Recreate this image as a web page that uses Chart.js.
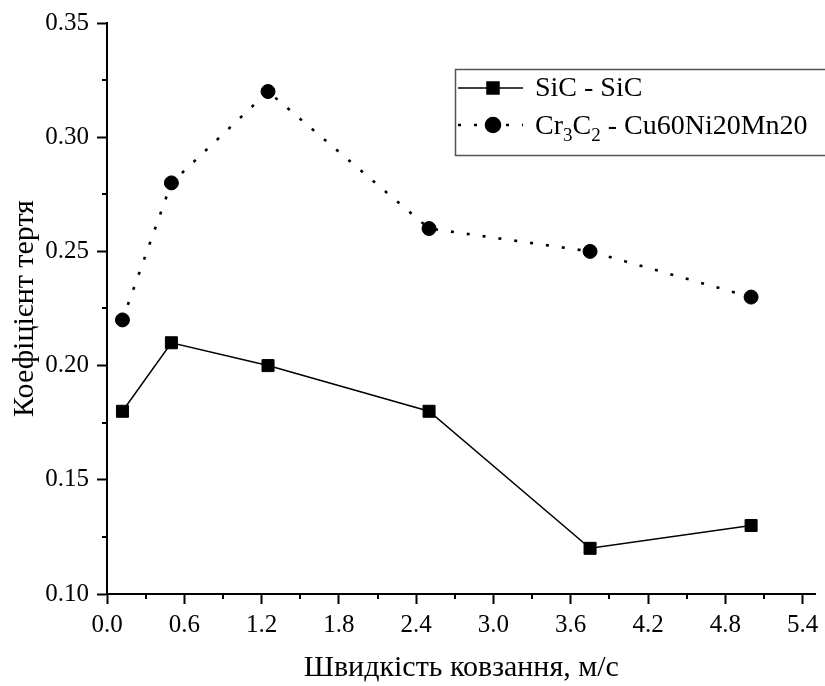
<!DOCTYPE html>
<html>
<head>
<meta charset="utf-8">
<script src="https://cdn.jsdelivr.net/npm/chart.js@4/dist/chart.umd.min.js"></script>
<style>
  html, body { margin: 0; padding: 0; background: #fff; }
  canvas { display: block; }
</style>
</head>
<body>
<canvas id="c" width="825" height="686"></canvas>
<script>
// ---- data ----
const speeds = [0.12, 0.5, 1.25, 2.5, 3.75, 5.0];
const sicValues = [0.18, 0.21, 0.20, 0.18, 0.12, 0.13];
const cr3c2Values = [0.22, 0.28, 0.32, 0.26, 0.25, 0.23];
const seriesNames = ['SiC - SiC', 'Cr₃C₂ - Cu60Ni20Mn20'];
const xTickValues = [0.0, 0.6, 1.2, 1.8, 2.4, 3.0, 3.6, 4.2, 4.8, 5.4];
const xMinorValues = [0.3, 0.9, 1.5, 2.1, 2.7, 3.3, 3.9, 4.5, 5.1];
const yTickValues = [0.10, 0.15, 0.20, 0.25, 0.30, 0.35];
const yMinorValues = [0.125, 0.175, 0.225, 0.275, 0.325];
const xTitle = 'Швидкість ковзання, м/с';
const yTitle = 'Коефіцієнт тертя';
// legend label rich parts: [text, isSubscript]
const legendParts = [
  [['SiC - SiC', false]],
  [['Cr', false], ['3', true], ['C', false], ['2', true], [' - Cu60Ni20Mn20', false]]
];

const FONT = "'Liberation Serif', 'Times New Roman', serif";

const minorTicks = {
  id: 'minorTicks',
  afterDraw(chart) {
    const ctx = chart.ctx;
    const xs = chart.scales.x, ys = chart.scales.y;
    const ca = chart.chartArea;
    ctx.save();
    ctx.strokeStyle = '#000';
    ctx.lineWidth = 2;
    ctx.beginPath();
    xMinorValues.forEach(v => {
      const px = Math.round(xs.getPixelForValue(v));
      ctx.moveTo(px, ca.bottom);
      ctx.lineTo(px, ca.bottom + 5);
    });
    yMinorValues.forEach(v => {
      const py = Math.round(ys.getPixelForValue(v));
      ctx.moveTo(ca.left, py);
      ctx.lineTo(ca.left - 5, py);
    });
    ctx.stroke();
    ctx.restore();
  }
};

const boxLegend = {
  id: 'boxLegend',
  afterDraw(chart) {
    const ctx = chart.ctx;
    const ca = chart.chartArea;
    const bx = ca.left + 348, by = ca.top + 46, bw = 380, bh = 86;
    ctx.save();
    ctx.strokeStyle = '#555';
    ctx.lineWidth = 1.5;
    ctx.strokeRect(bx + 0.5, by + 0.5, bw, bh);
    const rows = [
      { lineY: by + 19, baseY: by + 27, ds: chart.data.datasets[0] },
      { lineY: by + 56, baseY: by + 65, ds: chart.data.datasets[1] }
    ];
    rows.forEach((r, i) => {
      const ds = r.ds;
      ctx.strokeStyle = '#000';
      ctx.lineWidth = ds.borderWidth;
      ctx.setLineDash(ds.borderDash || []);
      ctx.beginPath();
      ctx.moveTo(bx + 3, r.lineY);
      ctx.lineTo(bx + 68, r.lineY);
      ctx.stroke();
      ctx.setLineDash([]);
      Chart.helpers.drawPoint(ctx, {
        pointStyle: ds.pointStyle, radius: ds.pointRadius, borderWidth: 1
      }, bx + 38, r.lineY);
      ctx.fillStyle = '#000';
      ctx.fill();
      // text
      let tx = bx + 80;
      ctx.textBaseline = 'alphabetic';
      ctx.textAlign = 'left';
      legendParts[i].forEach(([t, sub]) => {
        ctx.font = (sub ? '19px ' : '28px ') + FONT;
        ctx.fillText(t, tx, r.baseY + (sub ? 7 : 0));
        tx += ctx.measureText(t).width;
      });
    });
    ctx.restore();
  }
};

new Chart(document.getElementById('c'), {
  type: 'line',
  data: {
    datasets: [
      {
        label: seriesNames[0],
        data: speeds.map((x, i) => ({ x, y: sicValues[i] })),
        borderColor: '#000',
        backgroundColor: '#000',
        borderWidth: 1.5,
        pointStyle: 'rect',
        pointRadius: 8.5,
        pointBorderWidth: 1,
        pointBackgroundColor: '#000',
        pointBorderColor: '#000',
        tension: 0
      },
      {
        label: seriesNames[1],
        data: speeds.map((x, i) => ({ x, y: cr3c2Values[i] })),
        borderColor: '#000',
        backgroundColor: '#000',
        borderWidth: 2.6,
        borderDash: [3, 13],
        pointStyle: 'circle',
        pointRadius: 7,
        pointBorderWidth: 1,
        pointBackgroundColor: '#000',
        pointBorderColor: '#000',
        tension: 0
      }
    ]
  },
  options: {
    responsive: false,
    animation: false,
    layout: { padding: { left: 0, top: 20, right: 7, bottom: 0 } },
    plugins: { legend: { display: false }, tooltip: { enabled: false } },
    scales: {
      x: {
        type: 'linear',
        min: 0, max: 5.5,
        afterBuildTicks: s => { s.ticks = xTickValues.map(v => ({ value: v })); },
        afterFit: s => { s.height = 92; },
        border: { display: true, color: '#000', width: 2 },
        grid: { drawOnChartArea: false, drawTicks: true, tickLength: 10, tickWidth: 2, tickColor: '#000' },
        ticks: {
          color: '#000', padding: 6,
          font: { family: FONT, size: 25 },
          maxRotation: 0, autoSkip: false,
          callback: v => Number(v).toFixed(1)
        },
        title: {
          display: true, text: xTitle, color: '#000',
          font: { family: FONT, size: 30 },
          padding: { top: 0, bottom: 0 }
        }
      },
      y: {
        type: 'linear',
        min: 0.1, max: 0.35,
        afterBuildTicks: s => { s.ticks = yTickValues.map(v => ({ value: v })); },
        afterFit: s => { s.width = 107; },
        border: { display: true, color: '#000', width: 2 },
        grid: { drawOnChartArea: false, drawTicks: true, tickLength: 10, tickWidth: 2, tickColor: '#000' },
        ticks: {
          color: '#000', padding: 8,
          font: { family: FONT, size: 25 },
          autoSkip: false,
          callback: v => Number(v).toFixed(2)
        },
        title: {
          display: true, text: yTitle, color: '#000',
          font: { family: FONT, size: 30 },
          padding: { top: 7, bottom: 0 }
        }
      }
    }
  },
  plugins: [minorTicks, boxLegend]
});
</script>
</body>
</html>
